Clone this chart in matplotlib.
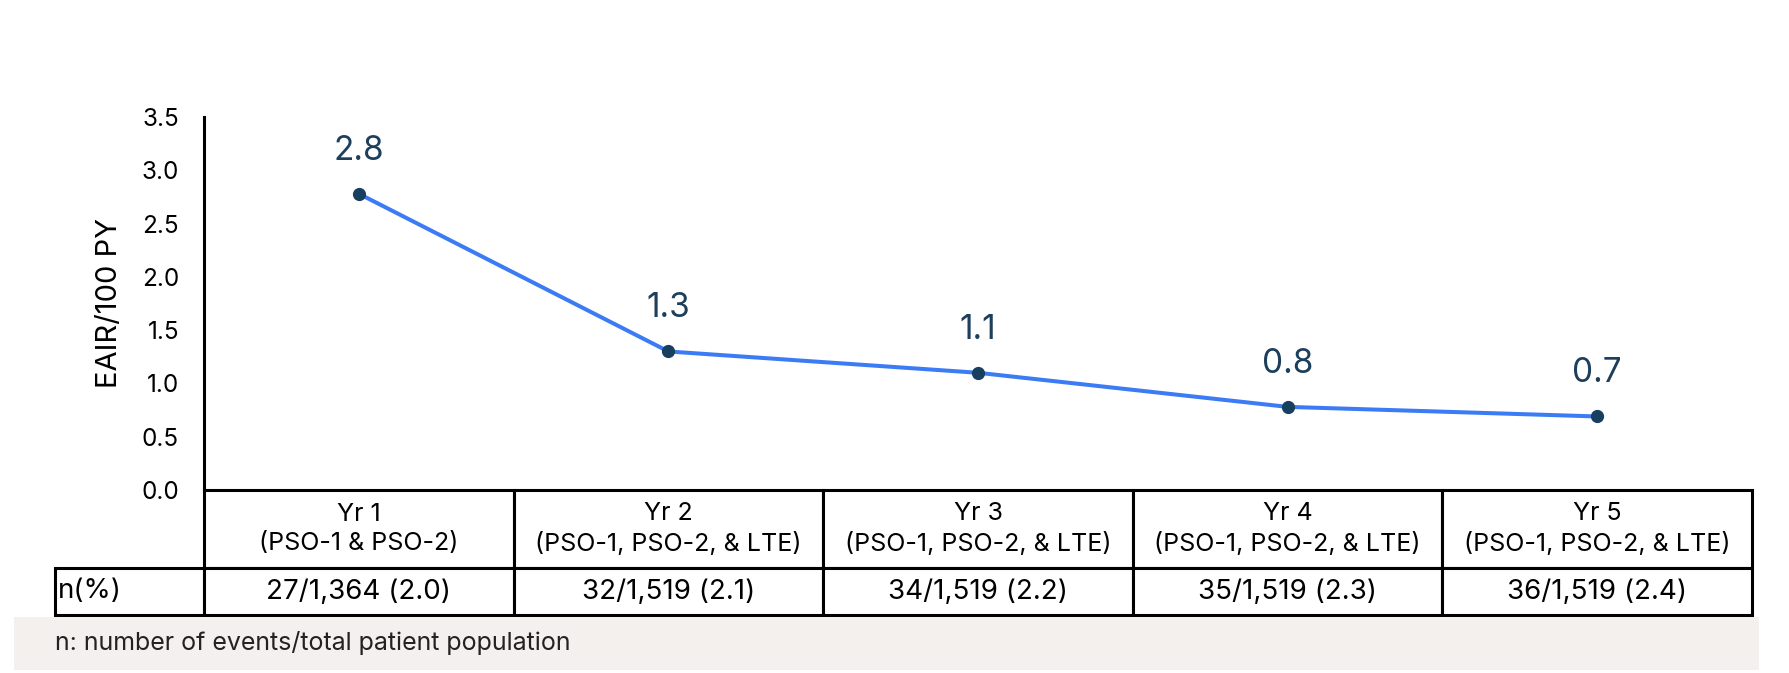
import matplotlib.pyplot as plt
from matplotlib.patches import Rectangle

# Datos
years = ["Yr 1", "Yr 2", "Yr 3", "Yr 4", "Yr 5"]
studies = ["(PSO-1 & PSO-2)", "(PSO-1, PSO-2, & LTE)", "(PSO-1, PSO-2, & LTE)",
           "(PSO-1, PSO-2, & LTE)", "(PSO-1, PSO-2, & LTE)"]
eair = [2.78, 1.30, 1.10, 0.78, 0.69]
eair_labels = ["2.8", "1.3", "1.1", "0.8", "0.7"]
n_pct = ["27/1,364 (2.0)", "32/1,519 (2.1)", "34/1,519 (2.2)",
         "35/1,519 (2.3)", "36/1,519 (2.4)"]
row_label = "n(%)"
yticks = [0.0, 0.5, 1.0, 1.5, 2.0, 2.5, 3.0, 3.5]
footnote = "n: number of events/total patient population"

plt.rcParams.update({'font.family': ['Inter', 'DejaVu Sans'], 'font.size': 16})

W, H = 1789, 673
fig = plt.figure(figsize=(W / 100, H / 100), dpi=100)

# caja gris de la nota
fig.patches.append(Rectangle((14 / W, 1 - 670 / H), (1759 - 14) / W, (670 - 617) / H,
                             transform=fig.transFigure, facecolor='#f3f0ee',
                             edgecolor='none', zorder=0))
fig.text(55 / W, 1 - 643 / H, footnote, fontsize=18, va='center', ha='left',
         color='#222222')

ax = fig.add_axes([204 / W, 1 - 490 / H, 1548 / W, 373 / H])
x = [i + 0.5 for i in range(len(years))]   # centro de cada columna de la tabla
ax.plot(x, eair, color='#3b7cf4', lw=2.9, marker='o', ms=8.5,
        mfc='#173f5f', mec='#173f5f', zorder=3, clip_on=False)
for xi, y, lab in zip(x, eair, eair_labels):
    ax.annotate(lab, (xi, y), xytext=(0, 31), textcoords='offset points',
                ha='center', va='center', fontsize=24, color='#1d3f5c')

ax.set_xlim(0, len(years))
ax.set_ylim(0, 3.5)
ax.set_yticks(yticks)
ax.set_yticklabels([f"{v:.1f}" for v in yticks])
ax.tick_params(axis='y', length=0, pad=18, labelsize=17.5)
ax.set_xticks([])
ax.set_ylabel("EAIR/100 PY", fontsize=21, labelpad=13)
for s in ['top', 'right', 'bottom']:
    ax.spines[s].set_visible(False)
ax.spines['left'].set_linewidth(2.2)

# tabla bajo el eje (la columna de etiqueta queda fuera del bbox, a la izquierda)
header = [f"{y}\n{s}" for y, s in zip(years, studies)]
tw = 1548
tab = ax.table(cellText=[n_pct], colLabels=header,
               colWidths=[1 / len(years)] * len(years), cellLoc='center',
               bbox=[0, -125 / 373, 1, 125 / 373])
tab.add_cell(1, -1, width=149 / tw, height=47, text=row_label, loc='left')
tab.auto_set_font_size(False)
for (r, c), cell in tab.get_celld().items():
    cell.set_linewidth(2.2)
    cell.set_edgecolor('black')
    cell.set_height(78 if r == 0 else 47)
    txt = cell.get_text()
    txt.set_fontsize(18 if r == 0 else 20)
    if r == 0:
        txt.set_linespacing(1.35)
    if c == -1:
        cell.PAD = 0.02

plt.savefig("out.png", dpi=100)
